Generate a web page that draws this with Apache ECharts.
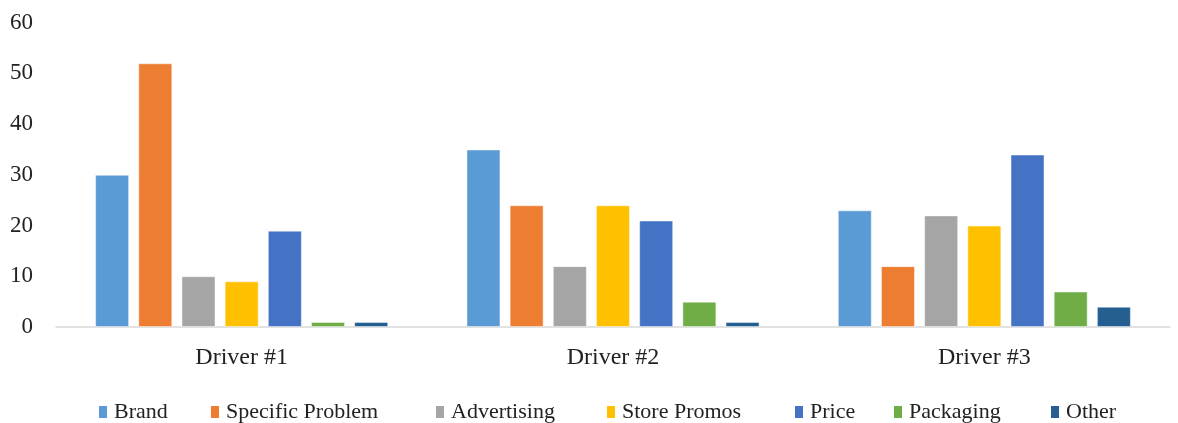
<!DOCTYPE html>
<html>
<head>
<meta charset="utf-8">
<title>Purchase drivers</title>
<script src="https://cdn.jsdelivr.net/npm/echarts@6/dist/echarts.min.js"></script>
<style>
  html, body { margin: 0; padding: 0; background: #ffffff; }
  #chart { width: 1178px; height: 423px; }
</style>
</head>
<body>
<div id="chart"></div>
<script>
// Categories along the x axis
const drivers = ['Driver #1', 'Driver #2', 'Driver #3'];

// One series per reason, values per driver
const seriesNames = ['Brand', 'Specific Problem', 'Advertising', 'Store Promos', 'Price', 'Packaging', 'Other'];
const brand = [30, 35, 23];
const specificProblem = [52, 24, 12];
const advertising = [10, 12, 22];
const storePromos = [9, 24, 20];
const price = [19, 21, 34];
const packaging = [1, 5, 7];
const other = [1, 1, 4];
const seriesValues = [brand, specificProblem, advertising, storePromos, price, packaging, other];

// Y axis ticks
const yTicks = [0, 10, 20, 30, 40, 50, 60];

// Styling
const colors = ['#5B9BD5', '#ED7D31', '#A5A5A5', '#FFC000', '#4472C4', '#70AD47', '#255E91'];
const legendLeft = [94, 206, 431, 602, 790, 889, 1046];
const serif = '"Liberation Serif", "Times New Roman", serif';
const textColor = '#222222';

const chart = echarts.init(document.getElementById('chart'), null, { renderer: 'canvas' });

chart.setOption({
  animation: false,
  backgroundColor: '#ffffff',
  color: colors,
  grid: { left: 56, right: 8, top: 22.7, bottom: 96, containLabel: false },
  legend: seriesNames.map((name, i) => ({
    data: [name],
    left: legendLeft[i],
    top: 396,
    icon: 'rect',
    itemWidth: 8,
    itemHeight: 12,
    itemStyle: { borderWidth: 0 },
    textStyle: {
      fontFamily: serif,
      fontSize: 22,
      color: textColor,
      padding: [0, 0, 0, 2]
    }
  })),
  xAxis: {
    type: 'category',
    data: drivers,
    axisLine: { show: true, lineStyle: { color: '#d9d9d9', width: 1.5 } },
    axisTick: { show: false },
    axisLabel: {
      fontFamily: serif,
      fontSize: 24,
      color: textColor,
      margin: 19
    }
  },
  yAxis: {
    type: 'value',
    min: yTicks[0],
    max: yTicks[yTicks.length - 1],
    interval: 10,
    axisLine: { show: false },
    axisTick: { show: false },
    splitLine: { show: false },
    axisLabel: {
      fontFamily: serif,
      fontSize: 23,
      color: textColor,
      margin: 23
    }
  },
  series: seriesNames.map((name, i) => ({
    name: name,
    type: 'bar',
    data: seriesValues[i],
    barWidth: 34,
    barGap: '27%',
    itemStyle: {
      color: colors[i],
      borderColor: 'rgba(255,255,255,0.45)',
      borderWidth: 1
    }
  }))
});
</script>
</body>
</html>
